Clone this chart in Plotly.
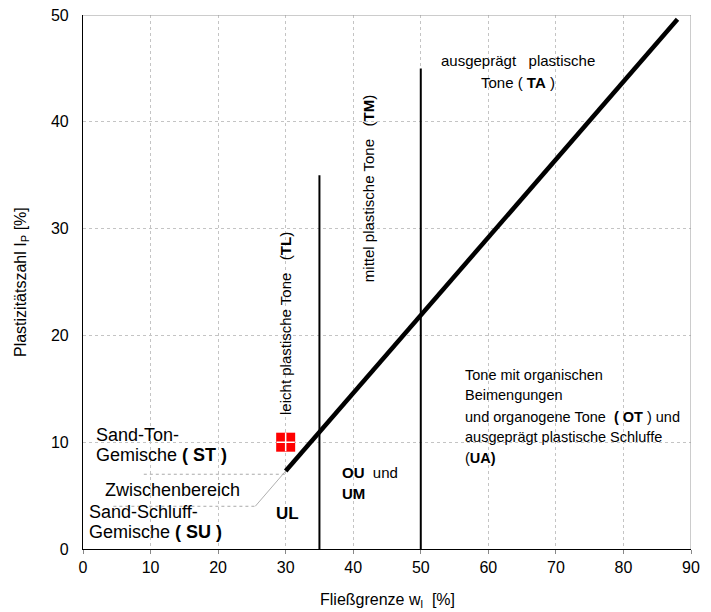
import plotly.graph_objects as go

# ---- data ----
a_line_wl = [30, 88]
a_line_ip = [7.3, 49.6]
tl_tm_border_wl = [35, 35]
tl_tm_border_ip = [0, 35]
tm_ta_border_wl = [50, 50]
tm_ta_border_ip = [0, 45]
ip7_wl = [9, 30]
ip7_ip = [7, 7]
ip4_wl = [4.5, 25.5]
ip4_ip = [4, 4]
a_ext_wl = [25.5, 30]
a_ext_ip = [4.0, 7.3]
sample_wl = [30]
sample_ip = [10]
x_ticks = [0, 10, 20, 30, 40, 50, 60, 70, 80, 90]
y_ticks = [0, 10, 20, 30, 40, 50]

FONT = "Arial, Liberation Sans, Helvetica, sans-serif"

fig = go.Figure()

def line(x, y, color, width, dash="solid"):
    fig.add_trace(go.Scatter(x=x, y=y, mode="lines",
                             line=dict(color=color, width=width, dash=dash),
                             hoverinfo="skip", showlegend=False))

line(ip7_wl, ip7_ip, "#aaaaaa", 1, "dot")
line(ip4_wl, ip4_ip, "#aaaaaa", 1, "dot")
line(a_ext_wl, a_ext_ip, "#b0b0b0", 1)
line(tl_tm_border_wl, tl_tm_border_ip, "black", 2)
line(tm_ta_border_wl, tm_ta_border_ip, "black", 2)
line(a_line_wl, a_line_ip, "black", 4.5)

fig.add_trace(go.Scatter(x=sample_wl, y=sample_ip, mode="markers",
                         marker=dict(symbol="square", size=19, color="#ff0000",
                                     line=dict(width=0)),
                         hoverinfo="skip", showlegend=False))
fig.add_trace(go.Scatter(x=sample_wl, y=sample_ip, mode="markers",
                         marker=dict(symbol="cross-thin", size=13, color="white",
                                     line=dict(width=1.5, color="white")),
                         hoverinfo="skip", showlegend=False))

anns = []
def txt(t, x, y, size, xanchor="left", angle=0):
    anns.append(dict(text=t, x=x, y=y, xref="x", yref="y", showarrow=False,
                     xanchor=xanchor, yanchor="middle", textangle=angle,
                     font=dict(family=FONT, size=size, color="black")))

# left-side labels
txt("Sand-Ton-", 1.6, 10.67, 18)
txt("Gemische <b>( ST )</b>", 1.6, 8.8, 18)
txt("Zwischenbereich", 2.9, 5.52, 18)
txt("Sand-Schluff-", 0.55, 3.46, 18)
txt("Gemische <b>( SU )</b>", 0.55, 1.59, 18)
txt("<b>UL</b>", 30.2, 3.37, 17, "center")
txt("<b>OU</b>  und", 38.0, 7.12, 15)
txt("<b>UM</b>", 38.0, 5.24, 15)
# rotated labels
txt("leicht plastische Tone   (<b>TL</b>)", 30.05, 21.07, 15, "center", -90)
txt("mittel plastische Tone   (<b>TM</b>)", 42.2, 33.7, 15, "center", -90)
# TA
txt("ausgeprägt   plastische", 64.4, 45.7, 15, "center")
txt("Tone ( <b>TA</b> )", 64.4, 43.7, 15, "center")
# OT block
txt("Tone mit organischen", 56.2, 16.29, 14.5)
txt("Beimengungen", 56.2, 14.42, 14.5)
txt("und organogene Tone  <b>( OT</b> ) und", 56.2, 12.36, 14.5)
txt("ausgeprägt plastische Schluffe", 56.2, 10.49, 14.5)
txt("(<b>UA)</b>", 56.2, 8.52, 14.5)

# axis titles
anns.append(dict(text="Fließgrenze w<sub>l</sub>  [%]", x=0.5, y=0, xref="paper", yref="paper",
                 yshift=-51, showarrow=False, xanchor="center", yanchor="middle",
                 font=dict(family=FONT, size=16, color="black")))
anns.append(dict(text="Plastizitätszahl I<sub>P</sub> [%]", x=0, y=0.5, xref="paper", yref="paper",
                 xshift=-62, showarrow=False, xanchor="center", yanchor="middle", textangle=-90,
                 font=dict(family=FONT, size=16, color="black")))

shapes = [
    dict(type="line", xref="x", yref="y", x0=0, x1=90, y0=50, y1=50,
         line=dict(color="#999999", width=1), layer="above"),
    dict(type="line", xref="x", yref="y", x0=90, x1=90, y0=0, y1=50,
         line=dict(color="#999999", width=1), layer="above"),
]

fig.update_layout(
    width=711, height=612,
    margin=dict(l=83, r=20, t=15, b=63, autoexpand=False),
    paper_bgcolor="white", plot_bgcolor="white",
    font=dict(family=FONT, size=16, color="black"),
    annotations=anns, shapes=shapes,
    xaxis=dict(range=[0, 90], tickvals=x_ticks, showgrid=True, gridcolor="#c4c4c4",
               griddash="dot", gridwidth=1, zeroline=False, showline=True, automargin=False,
               linecolor="black", linewidth=1.2, ticks="outside", ticklen=4,
               tickcolor="#888888", tickfont=dict(size=16)),
    yaxis=dict(range=[0, 50], tickvals=y_ticks, showgrid=True, gridcolor="#c4c4c4",
               griddash="dot", gridwidth=1, zeroline=False, showline=True, automargin=False,
               linecolor="black", linewidth=1.2, ticks="", ticklabelstandoff=10,
               tickfont=dict(size=16)),
)

fig.write_html("out.html")
